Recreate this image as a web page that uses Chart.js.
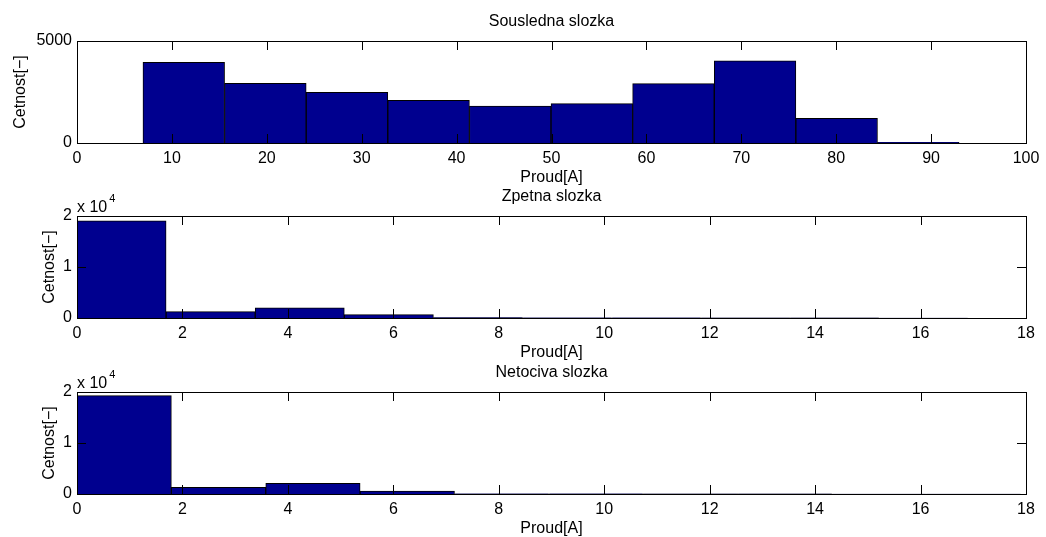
<!DOCTYPE html>
<html>
<head>
<meta charset="utf-8">
<script src="https://cdn.jsdelivr.net/npm/chart.js@4/dist/chart.umd.min.js"></script>
<style>
  html, body { margin: 0; padding: 0; background: #fff; overflow: hidden; }
  #wrap { position: relative; width: 1046px; height: 537px; }
  #wrap canvas { position: absolute; left: 0; }
</style>
</head>
<body>
<div id="wrap">
  <canvas id="c1" width="1046" height="187" style="top:0px"></canvas>
  <canvas id="c2" width="1046" height="187" style="top:175px"></canvas>
  <canvas id="c3" width="1046" height="187" style="top:351px"></canvas>
</div>
<script>
// histogram bin centres and counts
const binsSousledna = [11.25, 19.85, 28.45, 37.05, 45.65, 54.25, 62.85, 71.45, 80.05, 88.65];
const countsSousledna = [3956, 2926, 2485, 2093, 1814, 1928, 2907, 4034, 1210, 35];

const binsZpetna = [0.845, 2.535, 4.225, 5.915, 7.605, 9.295, 10.985, 12.675, 14.365, 16.055];
const countsZpetna = [19070, 1260, 1970, 670, 60, 30, 20, 10, 10, 5];

const binsNetociva = [0.895, 2.685, 4.475, 6.265, 8.055, 9.845, 11.635, 13.425, 15.215, 17.005];
const countsNetociva = [19290, 1300, 2090, 560, 50, 25, 15, 10, 5, 5];

// tick labels
const xTicksSousledna = [0, 10, 20, 30, 40, 50, 60, 70, 80, 90, 100];
const xTicksProud = [0, 2, 4, 6, 8, 10, 12, 14, 16, 18];
const yTicksSousledna = [0, 5000];
const yTicksSmall = [0, 10000, 20000];

Chart.defaults.font.family = '"Liberation Sans", Arial, Helvetica, sans-serif';
Chart.defaults.font.size = 16;
Chart.defaults.color = '#000';

// box around axes + inward tick marks + "x 10^4" multiplier
const matlabAxes = {
  id: 'matlabAxes',
  afterDatasetsDraw(chart, args, opts) {
    const ctx = chart.ctx;
    const a = chart.chartArea;
    const xs = chart.scales.x, ys = chart.scales.y;
    const tl = 9;
    ctx.save();
    ctx.strokeStyle = '#000';
    ctx.lineWidth = 1;
    ctx.beginPath();
    xs.ticks.forEach(t => {
      const px = Math.round(xs.getPixelForValue(t.value)) + 0.5;
      ctx.moveTo(px, a.bottom); ctx.lineTo(px, a.bottom - tl);
      ctx.moveTo(px, a.top); ctx.lineTo(px, a.top + tl);
    });
    ys.ticks.forEach(t => {
      const py = Math.round(ys.getPixelForValue(t.value)) + 0.5;
      ctx.moveTo(a.left, py); ctx.lineTo(a.left + tl, py);
      ctx.moveTo(a.right, py); ctx.lineTo(a.right - tl, py);
    });
    ctx.stroke();
    ctx.strokeRect(Math.round(a.left) + 0.5, Math.round(a.top) + 0.5,
      Math.round(a.right - a.left), Math.round(a.bottom - a.top));
    if (opts.exponent) {
      ctx.fillStyle = '#000';
      ctx.textBaseline = 'alphabetic';
      ctx.textAlign = 'left';
      ctx.font = '16px "Liberation Sans", Arial, sans-serif';
      ctx.fillText('x 10', a.left, a.top - 4);
      const w = ctx.measureText('x 10').width;
      ctx.font = '11px "Liberation Sans", Arial, sans-serif';
      ctx.fillText(opts.exponent, a.left + w + 2, a.top - 14);
    }
    ctx.restore();
  }
};

function makeHist(id, title, bins, counts, xTicks, xMax, yTicks, yMax, yTitlePad, exponent) {
  const points = bins.map((b, i) => ({ x: b, y: counts[i] }));
  return new Chart(document.getElementById(id), {
    type: 'bar',
    data: {
      datasets: [{
        data: points,
        backgroundColor: 'rgb(0,0,143)',
        borderColor: '#000',
        borderWidth: 1,
        barPercentage: 1,
        categoryPercentage: 1
      }]
    },
    options: {
      responsive: false,
      animation: false,
      layout: { padding: { left: 0, right: 20, top: 0, bottom: 0 } },
      plugins: {
        legend: { display: false },
        tooltip: { enabled: false },
        matlabAxes: { exponent: exponent }
      },
      scales: {
        x: {
          type: 'linear',
          position: 'bottom',
          offset: false,
          min: 0,
          max: xMax,
          afterBuildTicks: s => { s.ticks = xTicks.map(v => ({ value: v })); },
          afterFit: s => { s.height = 44; },
          grid: { display: false, drawTicks: false, offset: false },
          border: { display: false },
          ticks: { padding: 6, maxRotation: 0, autoSkip: false },
          title: { display: true, text: 'Proud[A]', padding: { top: 0, bottom: 0 } }
        },
        xt: {
          type: 'linear',
          position: 'top',
          offset: false,
          afterFit: s => { s.height = 41; },
          grid: { display: false, drawTicks: false },
          border: { display: false },
          ticks: { display: false },
          title: { display: true, text: title, padding: { top: 12, bottom: 0 } }
        },
        y: {
          min: 0,
          max: yMax,
          afterBuildTicks: s => { s.ticks = yTicks.map(v => ({ value: v })); },
          afterFit: s => { s.width = 77; },
          grid: { display: false, drawTicks: false },
          border: { display: false },
          ticks: {
            padding: 5,
            callback: v => exponent ? String(v / 10000) : String(v)
          },
          title: { display: true, text: 'Cetnost[\u2212]', padding: { top: yTitlePad, bottom: 0 } }
        }
      }
    },
    plugins: [matlabAxes]
  });
}

makeHist('c1', 'Sousledna slozka', binsSousledna, countsSousledna, xTicksSousledna, 100, yTicksSousledna, 5000, 11, null);
makeHist('c2', 'Zpetna slozka', binsZpetna, countsZpetna, xTicksProud, 18, yTicksSmall, 20000, 40, '4');
makeHist('c3', 'Netociva slozka', binsNetociva, countsNetociva, xTicksProud, 18, yTicksSmall, 20000, 40, '4');
</script>
</body>
</html>
